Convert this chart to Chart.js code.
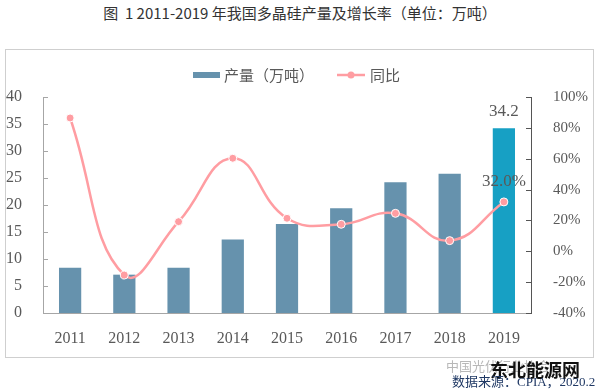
<!DOCTYPE html>
<html>
<head>
<meta charset="utf-8">
<script src="https://cdn.jsdelivr.net/npm/chart.js@4/dist/chart.umd.min.js"></script>
<style>
  body { margin: 0; background: #fff; }
  #wrap { position: relative; width: 600px; height: 392px; overflow: hidden; }
  #frame { position: absolute; left: 5px; top: 49px; width: 587px; height: 307px; border: 1px solid #cfcfcf; }
  #title { position: absolute; left: 0; top: 2px; width: 600px; text-align: center; font: 15px "Noto Sans CJK SC", sans-serif; color: #333; }
  .note { position: absolute; white-space: nowrap; }
</style>
</head>
<body>
<div id="wrap">
  <div id="title">图&nbsp; 1 2011-2019 年我国多晶硅产量及增长率（单位：万吨）</div>
  <div id="frame"></div>
  <canvas id="myChart" width="600" height="392" style="position:absolute;left:0;top:0;"></canvas>
  <div class="note" style="left:446px;top:356px;font:13px 'Noto Sans CJK SC';color:#b8b8b8;">中国光伏行业协会</div>
  <div class="note" style="left:490px;top:356px;font:bold 18px 'Noto Sans CJK SC';color:#111;">东北能源网</div>
  <div class="note" style="left:452px;top:371px;font:13px 'Liberation Serif','Noto Sans CJK SC';color:#1f3864;">数据来源：CPIA，2020.2</div>
</div>
<script>
// Data
const years = ['2011', '2012', '2013', '2014', '2015', '2016', '2017', '2018', '2019'];
const output = [8.4, 7.1, 8.4, 13.6, 16.5, 19.4, 24.2, 25.8, 34.2];
const growth = [86.4, -15.4, 19.2, 60.3, 21.4, 17.5, 24.6, 6.9, 32.0];
const barColors = ['#6692ad', '#6692ad', '#6692ad', '#6692ad', '#6692ad', '#6692ad', '#6692ad', '#6692ad', '#17a0c4'];
const leftTicks = [0, 5, 10, 15, 20, 25, 30, 35, 40];
const rightTicks = [-40, -20, 0, 20, 40, 60, 80, 100];

const tickFont = { family: 'Liberation Serif', size: 16 };
const lineColor = '#ff9da2';

// Inside tick marks, value labels and legend
const extras = {
  id: 'extras',
  afterDraw(chart) {
    const ctx = chart.ctx;
    const yl = chart.scales.y;
    const yr = chart.scales.y1;
    ctx.save();
    ctx.lineWidth = 1;
    ctx.strokeStyle = '#a6a6a6';
    leftTicks.forEach(v => {
      const py = Math.round(yl.getPixelForValue(v)) + 0.5;
      ctx.beginPath();
      ctx.moveTo(yl.right, py);
      ctx.lineTo(yl.right + 5, py);
      ctx.stroke();
    });
    ctx.strokeStyle = '#555';
    rightTicks.forEach(v => {
      const py = Math.round(yr.getPixelForValue(v)) + 0.5;
      ctx.beginPath();
      ctx.moveTo(yr.left, py);
      ctx.lineTo(yr.left - 5, py);
      ctx.stroke();
    });

    // value labels for 2019
    const last = years.length - 1;
    const bar = chart.getDatasetMeta(0).data[last];
    const pt = chart.getDatasetMeta(1).data[last];
    ctx.fillStyle = '#595959';
    ctx.font = '17px "Liberation Serif"';
    ctx.textAlign = 'center';
    ctx.textBaseline = 'bottom';
    ctx.fillText(output[last].toFixed(1), bar.x, bar.y - 8);
    ctx.fillText(growth[last].toFixed(1) + '%', pt.x, pt.y - 12);

    // legend
    const ly = 75;
    ctx.fillStyle = '#6692ad';
    ctx.fillRect(193, ly - 3, 27, 6);
    ctx.fillStyle = '#595959';
    ctx.font = '15px "Noto Sans CJK SC"';
    ctx.textAlign = 'left';
    ctx.textBaseline = 'middle';
    ctx.fillText('产量（万吨）', 224, ly);
    ctx.strokeStyle = lineColor;
    ctx.lineWidth = 2.5;
    ctx.beginPath();
    ctx.moveTo(337, ly);
    ctx.lineTo(365, ly);
    ctx.stroke();
    ctx.fillStyle = lineColor;
    ctx.beginPath();
    ctx.arc(351, ly, 3.5, 0, Math.PI * 2);
    ctx.fill();
    ctx.fillStyle = '#595959';
    ctx.fillText('同比', 370, ly);
    ctx.restore();
  }
};

const ctx = document.getElementById('myChart').getContext('2d');
const myChart = new Chart(ctx, {
  type: 'bar',
  data: {
    labels: years,
    datasets: [
      {
        label: '产量（万吨）',
        data: output,
        backgroundColor: barColors,
        barPercentage: 0.41,
        categoryPercentage: 1,
        yAxisID: 'y',
        order: 2
      },
      {
        type: 'line',
        label: '同比',
        data: growth,
        borderColor: lineColor,
        borderWidth: 2.5,
        tension: 0.45,
        pointRadius: 4,
        pointBackgroundColor: lineColor,
        pointBorderColor: '#fff',
        pointBorderWidth: 1,
        yAxisID: 'y1',
        order: 1
      }
    ]
  },
  options: {
    responsive: false,
    animation: false,
    layout: { padding: { top: 97, left: 0, right: 0, bottom: 0 } },
    plugins: {
      legend: { display: false },
      tooltip: { enabled: false }
    },
    scales: {
      x: {
        grid: { display: false },
        border: { color: '#a6a6a6' },
        ticks: { font: tickFont, color: '#595959', padding: 8 },
        afterFit(scale) { scale.height = 79; }
      },
      y: {
        position: 'left',
        min: 0,
        max: 40,
        grid: { display: false },
        border: { color: '#a6a6a6' },
        ticks: { stepSize: 5, font: tickFont, color: '#595959', padding: 13 },
        afterFit(scale) { scale.width = 43; }
      },
      y1: {
        position: 'right',
        min: -40,
        max: 100,
        grid: { display: false },
        border: { color: '#555' },
        ticks: {
          stepSize: 20,
          font: { family: 'Liberation Serif', size: 15 },
          color: '#595959',
          padding: 14,
          callback: v => v + '%'
        },
        afterFit(scale) { scale.width = 69; }
      }
    }
  },
  plugins: [extras]
});
</script>
</body>
</html>
